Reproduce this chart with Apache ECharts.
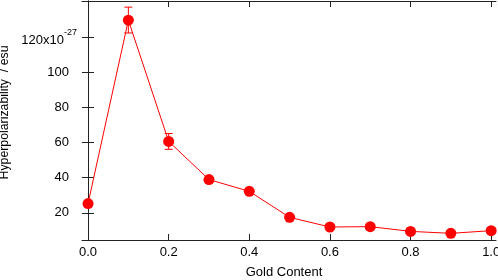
<!DOCTYPE html>
<html>
<head>
<meta charset="utf-8">
<script src="https://cdn.jsdelivr.net/npm/echarts@6/dist/echarts.min.js"></script>
<style>
html,body{margin:0;padding:0;background:#fff;}
#chart{width:498px;height:280px;}
</style>
</head>
<body>
<div id="chart"></div>
<script>
// gold content vs hyperpolarizability (x10^-27 esu)
var goldContent = [0.0, 0.1, 0.2, 0.3, 0.4, 0.5, 0.6, 0.7, 0.8, 0.9, 1.0];
var hyperpol = [25.2, 129.6, 60.6, 38.9, 32.2, 17.4, 11.9, 12.1, 9.4, 8.3, 9.8];
// error bars, only on two points
var errX = [0.1, 0.2];
var errLow = [122.3, 56.1];
var errHigh = [137.0, 65.1];
var xTicks = [0.0, 0.2, 0.4, 0.6, 0.8, 1.0];
var yTicks = [20, 40, 60, 80, 100, 120];

var chart = echarts.init(document.getElementById('chart'));
var font = 'Liberation Sans, Arial, sans-serif';
var axisCol = '#222';

var errData = errX.map(function (x, i) { return [x, errLow[i], errHigh[i]]; });

var option = {
    animation: false,
    grid: { left: 82, right: 2, top: 1, bottom: 40, outerBoundsMode: 'none', containLabel: false },
    xAxis: [
        {
            type: 'value', min: -0.015, max: 1.012, position: 'bottom',
            name: 'Gold Content', nameLocation: 'middle', nameGap: 26,
            nameTextStyle: { fontFamily: font, fontSize: 13, color: '#000', padding: [0, 10, 0, 0] },
            axisLine: { show: true, lineStyle: { color: axisCol, width: 1 } },
            axisTick: { show: true, inside: true, length: 6, customValues: xTicks, lineStyle: { color: axisCol } },
            axisLabel: {
                customValues: xTicks, margin: 6, fontFamily: font, fontSize: 13, color: '#000',
                formatter: function (v) { return v.toFixed(1); }
            },
            splitLine: { show: false }
        },
        {
            type: 'value', min: -0.015, max: 1.012, position: 'top',
            axisLine: { show: true, lineStyle: { color: axisCol, width: 1 } },
            axisTick: { show: true, inside: true, length: 6, customValues: xTicks, lineStyle: { color: axisCol } },
            axisLabel: { show: false },
            splitLine: { show: false }
        }
    ],
    yAxis: [
        {
            type: 'value', min: 4.5, max: 140.5, position: 'left',
            name: 'Hyperpolarizability  / esu', nameLocation: 'middle', nameGap: 60,
            nameTextStyle: { fontFamily: font, fontSize: 12.3, color: '#000', padding: [0, 0, 0, 16] },
            axisLine: { show: true, lineStyle: { color: axisCol, width: 1 } },
            axisTick: { show: true, inside: true, length: 6, customValues: yTicks, lineStyle: { color: axisCol } },
            axisLabel: {
                customValues: yTicks, margin: 5, fontFamily: font, fontSize: 13, color: '#000',
                formatter: function (v) { return v === 120 ? '{m|120x10}{sup|-27}' : '{n|' + v + '}'; },
                rich: {
                    n: { fontFamily: font, fontSize: 13, color: '#000', padding: [0, 8, 0, 0] },
                    m: { fontFamily: font, fontSize: 13, color: '#000', padding: [6, 0, 0, 0] },
                    sup: { fontFamily: font, fontSize: 9, color: '#000', verticalAlign: 'top', padding: [0, 0, 6, 0] }
                }
            },
            splitLine: { show: false }
        },
        {
            type: 'value', min: 4.5, max: 140.5, position: 'right',
            axisLine: { show: true, lineStyle: { color: axisCol, width: 1 } },
            axisTick: { show: true, inside: true, length: 6, customValues: yTicks, lineStyle: { color: axisCol } },
            axisLabel: { show: false },
            splitLine: { show: false }
        }
    ],
    series: [
        {
            type: 'line',
            data: goldContent.map(function (x, i) { return [x, hyperpol[i]]; }),
            symbol: 'circle', symbolSize: 11,
            itemStyle: { color: '#ff0000' },
            lineStyle: { color: '#ff0000', width: 1 },
            z: 3
        },
        {
            type: 'custom',
            data: errData,
            renderItem: function (params, api) {
                var x = api.value(0);
                var lo = api.coord([x, api.value(1)]);
                var hi = api.coord([x, api.value(2)]);
                var w = 4;
                var st = { stroke: '#ff0000', lineWidth: 1 };
                return {
                    type: 'group',
                    children: [
                        { type: 'line', shape: { x1: lo[0], y1: lo[1], x2: hi[0], y2: hi[1] }, style: st },
                        { type: 'line', shape: { x1: lo[0] - w, y1: lo[1], x2: lo[0] + w, y2: lo[1] }, style: st },
                        { type: 'line', shape: { x1: hi[0] - w, y1: hi[1], x2: hi[0] + w, y2: hi[1] }, style: st }
                    ]
                };
            },
            z: 2
        }
    ]
};
chart.setOption(option);
</script>
</body>
</html>
